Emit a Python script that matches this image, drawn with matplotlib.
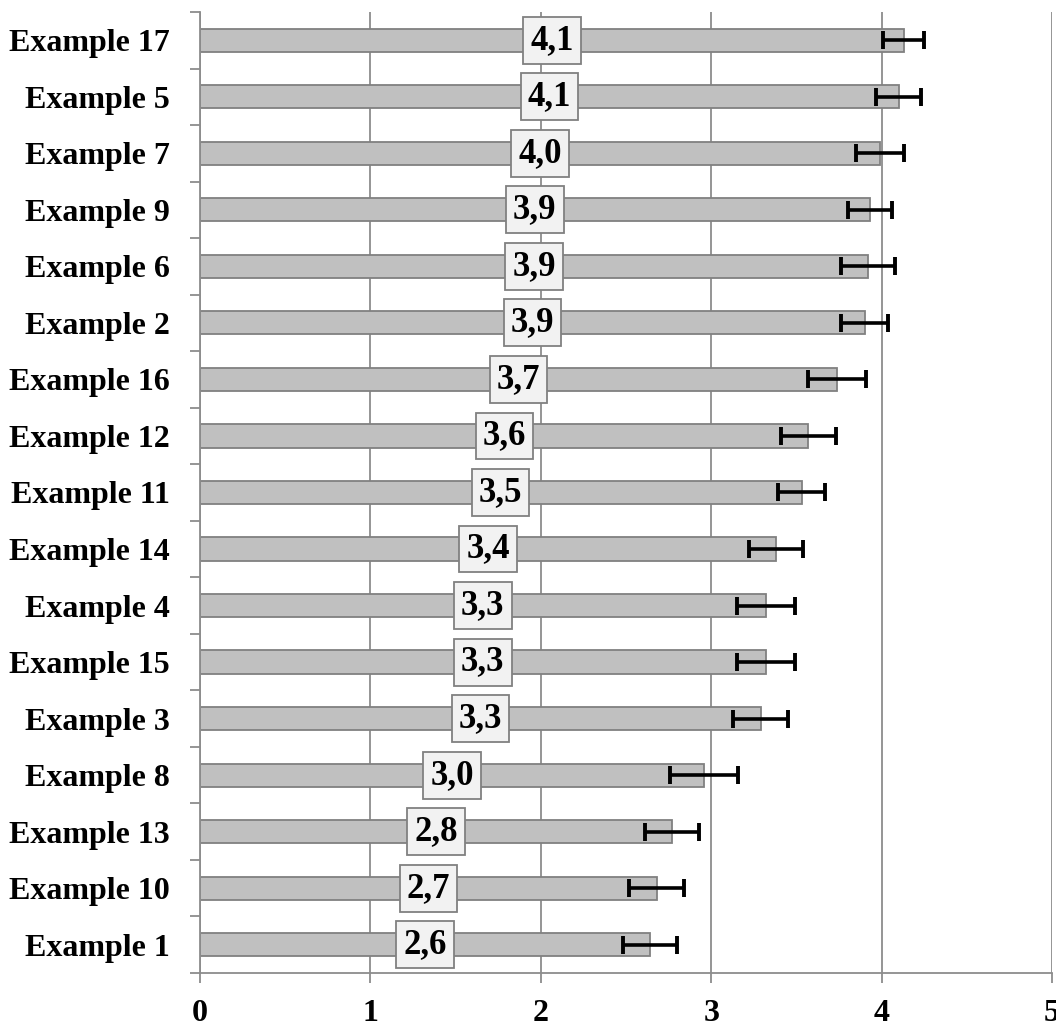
"""Horizontal bar chart of mean scores with error bars"""

import numpy as np
from matplotlib import pyplot as plt
from matplotlib.ticker import FixedLocator

# Data, listed bottom to top.
examples = ["Example 1", "Example 10", "Example 13", "Example 8", "Example 3",
            "Example 15", "Example 4", "Example 14", "Example 11", "Example 12",
            "Example 16", "Example 2", "Example 6", "Example 9", "Example 7",
            "Example 5", "Example 17"]
means = [2.64, 2.68, 2.77, 2.96, 3.29, 3.32, 3.32, 3.38, 3.53, 3.57,
         3.74, 3.90, 3.92, 3.93, 3.99, 4.10, 4.13]
errors = [0.16, 0.16, 0.16, 0.20, 0.16, 0.17, 0.17, 0.16, 0.14, 0.16,
          0.17, 0.14, 0.16, 0.13, 0.14, 0.13, 0.12]
x_ticks = [0, 1, 2, 3, 4, 5]

plt.rcParams["font.family"] = ["Liberation Serif", "DejaVu Serif"]
plt.rcParams["font.weight"] = "bold"

fig = plt.figure(figsize=(10.56, 10.34), dpi=100)
ax = fig.add_axes([0.1894, 0.059, 0.8068, 0.9294])

y = np.arange(len(examples))
ax.barh(y, means, height=0.41, color="#c0c0c0", edgecolor="#808080",
        linewidth=1.3, zorder=2)
ax.errorbar(means, y, xerr=errors, fmt="none", ecolor="black",
            elinewidth=2.6, capsize=6.5, capthick=2.8, zorder=3)

# Value labels in boxes at the middle of each bar.
for yi, m in zip(y, means):
    ax.text(m / 2, yi, f"{m:.1f}".replace(".", ","), ha="center", va="center",
            fontsize=25, fontweight="bold", zorder=4,
            bbox=dict(boxstyle="square,pad=0.2", facecolor="#f2f2f2",
                      edgecolor="#808080", linewidth=1.3))

ax.set_xlim(0, 5)
ax.set_ylim(-0.5, len(examples) - 0.5)
ax.set_xticks(x_ticks)
ax.set_yticks(y)
ax.set_yticklabels(examples)
ax.yaxis.set_minor_locator(FixedLocator(np.arange(len(examples) + 1) - 0.5))

ax.grid(axis="x", color="#8c8c8c", linewidth=1.3, zorder=0)
ax.set_axisbelow(True)
for side in ["top", "right"]:
    ax.spines[side].set_visible(False)
for side in ["left", "bottom"]:
    ax.spines[side].set_color("#8c8c8c")
    ax.spines[side].set_linewidth(1.3)

ax.tick_params(axis="y", which="major", length=0, pad=22, labelsize=23)
ax.tick_params(axis="y", which="minor", length=7, width=1.3, color="#8c8c8c")
ax.tick_params(axis="x", which="major", length=7, width=1.3, color="#8c8c8c",
               pad=12, labelsize=23)

fig.savefig("out.png", dpi=100)
